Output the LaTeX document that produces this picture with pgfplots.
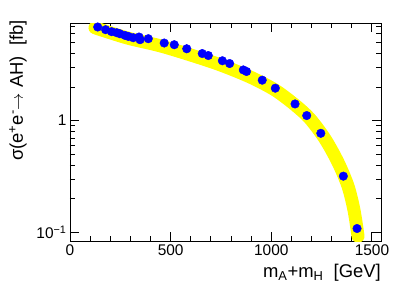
\documentclass[border=0pt]{standalone}
\usepackage{fontspec}
\setmainfont{Liberation Sans}
\usepackage{pgfplots}
\pgfplotsset{compat=1.18}
\definecolor{myblue}{RGB}{0,0,255}
\definecolor{myyellow}{RGB}{255,255,0}
\begin{document}
\begin{tikzpicture}
\path[use as bounding box] (-70bp,-53bp) rectangle (345bp,241bp);
\begin{axis}[
  scale only axis, width=311bp, height=218bp,
  at={(0,0)}, anchor=south west,
  xmin=0, xmax=1545, ymode=log, ymin=0.084, ymax=7.46,
  xtick={0,500,1000,1500}, xticklabels={0,500,1000,1500},
  minor xtick={100,200,300,400,600,700,800,900,1100,1200,1300,1400,1500},
  ytick={0.1,1}, yticklabels={10\textsuperscript{−1},1},
  minor ytick={0.2,0.3,0.4,0.5,0.6,0.7,0.8,0.9,2,3,4,5,6,7},
  tick align=inside, tick pos=both,
  major tick length=9bp, minor tick length=5bp,
  every tick/.style={black, line width=0.9bp},
  axis line style={line width=0.9bp},
  /pgf/number format/assume math mode=true,
  ticklabel style={font=\fontsize{15.5}{18}\selectfont},
  xlabel={m\textsubscript{A}+m\textsubscript{H}\ \ [GeV]},
  ylabel={σ(e\textsuperscript{+}e\textsuperscript{-}$\rightarrow$ AH)\ \ [fb]},
  xlabel style={at={(axis description cs:1,-0.1468)}, anchor=east, inner sep=0pt, font=\fontsize{18.5}{22}\selectfont},
  ylabel style={at={(axis description cs:-0.1672,1.0138)}, anchor=east, inner sep=0pt, font=\fontsize{18.5}{22}\selectfont},
]
\addplot[myyellow, line width=13bp, line cap=round, line join=round, smooth] coordinates {
(124,6.77) (199,6.11) (298,5.40) (447,4.67) (596,3.88) (745,3.16) (894,2.46)
(1018,1.88) (1118,1.38) (1192,1.04) (1267,0.686) (1331,0.426) (1381,0.260)
(1411,0.158) (1431,0.0927)
};
\addplot[only marks, mark=*, mark size=4.3bp, mark options={fill=myblue, draw=myblue}] coordinates {
(137.6,6.87) (177,6.50) (207,6.24) (232,6.11) (248,5.98) (273,5.78) (290,5.66)
(314,5.51) (343,5.59) (348,5.29) (389,5.40) (468,4.94) (518,4.77) (580,4.39)
(657,3.98) (687,3.82) (757,3.43) (793,3.24) (861,2.84) (877,2.75) (955,2.30)
(1020,1.95) (1118,1.41) (1176,1.11) (1246,0.771) (1358,0.319) (1426,0.1086)
};
\end{axis}
\end{tikzpicture}
\end{document}
